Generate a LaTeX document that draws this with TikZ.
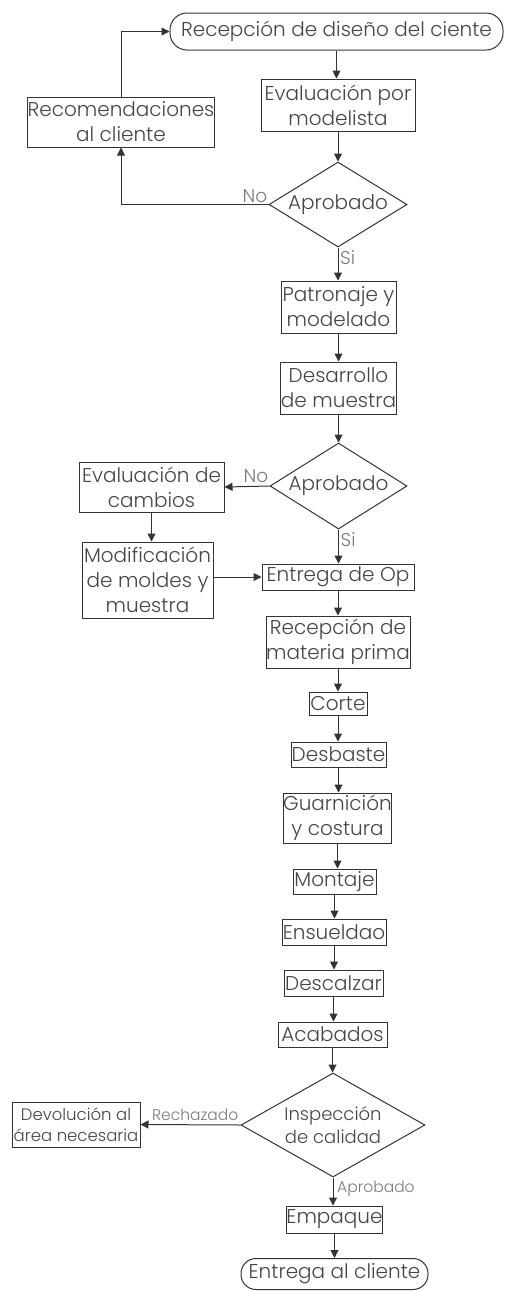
\documentclass[tikz,border=0pt]{standalone}
\usepackage{fontspec}
\setmainfont{Poppins}[UprightFont=* Light]
\usetikzlibrary{shapes.geometric,arrows.meta}
\definecolor{linec}{HTML}{333333}
\definecolor{textc}{HTML}{454545}
\definecolor{labc}{HTML}{7A7A7A}
\tikzset{
  box/.style={draw=linec, line width=1pt, inner sep=0pt, align=center, text=textc,
    font=\fontsize{20}{25}\selectfont},
  term/.style={box, rounded corners=#1},
  dia/.style={box, diamond, aspect=1.6, inner sep=-3pt},
  lab/.style={text=labc, inner sep=0pt, font=\fontsize{15.5}{17}\selectfont},
  biglab/.style={lab, font=\fontsize{18.5}{20}\selectfont},
  arr/.style={draw=linec, line width=1pt, -{Triangle[length=8pt,width=8pt]}},
  ln/.style={draw=linec, line width=1pt}
}
\begin{document}
\begin{tikzpicture}[x=1pt,y=-1pt]
\useasboundingbox (0,0) rectangle (506,1291);
\node[term=17pt, minimum width=333pt, minimum height=37pt] (start) at (336.5,31.5) {Recepción de diseño del ciente};
\node[box, minimum width=154pt, minimum height=52pt] (eval) at (338,105) {Evaluación por\\modelista};
\node[dia, minimum width=138pt, minimum height=85pt] (dec1) at (338,204.5) {Aprobado};
\node[box, minimum width=186pt, minimum height=50pt] (rec) at (121,122) {Recomendaciones\\al cliente};
\node[box, minimum width=115pt, minimum height=52pt] (patr) at (338.5,307) {Patronaje y\\modelado};
\node[box, minimum width=115pt, minimum height=52pt] (desa) at (338.5,388) {Desarrollo\\de muestra};
\node[dia, minimum width=137pt, minimum height=86pt] (dec2) at (338.5,486) {Aprobado};
\node[box, minimum width=145pt, minimum height=50pt] (evc) at (151.5,487) {Evaluación de\\cambios};
\node[box, minimum width=131pt, minimum height=76pt] (mod) at (147.5,580) {Modificación\\de moldes y\\muestra};
\node[box, minimum width=152pt, minimum height=26pt] (ent) at (338,577) {Entrega de Op};
\node[box, minimum width=144pt, minimum height=52pt] (mat) at (338,642) {Recepción de\\materia prima};
\node[box, minimum width=58pt, minimum height=23pt] (corte) at (338,703.5) {Corte};
\node[box, minimum width=95pt, minimum height=25pt] (desb) at (338.5,754.5) {Desbaste};
\node[box, minimum width=107pt, minimum height=50pt] (guar) at (337.5,818) {Guarnición\\y costura};
\node[box, minimum width=83pt, minimum height=25pt] (mont) at (334.5,881.5) {Montaje};
\node[box, minimum width=104pt, minimum height=26pt] (ensu) at (334,932) {Ensueldao};
\node[box, minimum width=99pt, minimum height=26pt] (desc) at (333.5,983) {Descalzar};
\node[box, minimum width=109pt, minimum height=25pt] (acab) at (332.5,1034.5) {Acabados};
\node[dia, minimum width=184pt, minimum height=104pt, font=\fontsize{18}{23}\selectfont] (dec3) at (333,1125) {Inspección\\de calidad};
\node[box, minimum width=128pt, minimum height=45pt, font=\fontsize{16.5}{21}\selectfont] (devo) at (76,1124.5) {Devolución al\\área necesaria};
\node[box, minimum width=95pt, minimum height=27pt] (emp) at (334.5,1219.5) {Empaque};
\node[term=15pt, minimum width=187pt, minimum height=31pt] (fin) at (334.5,1274) {Entrega al cliente};
% connectors
\draw[arr] (start.south) -- (start.south |- eval.north);
\draw[arr] (eval.south) -- (eval.south |- dec1.north);
\draw[arr] (dec1.west) -| (rec.south);
\draw[arr] (rec.north) |- (start.west);
\draw[arr] (dec1.south) -- (dec1.south |- patr.north);
\draw[arr] (patr.south) -- (patr.south |- desa.north);
\draw[arr] (desa.south) -- (desa.south |- dec2.north);
\draw[arr] (dec2.west) -- (evc.east);
\draw[arr] (evc.south) -- (evc.south |- mod.north);
\draw[arr] (ent.west -| mod.east) -- (ent.west);
\draw[arr] (dec2.south) -- (dec2.south |- ent.north);
\draw[arr] (ent.south) -- (ent.south |- mat.north);
\draw[arr] (mat.south) -- (mat.south |- corte.north);
\draw[arr] (corte.south) -- (corte.south |- desb.north);
\draw[arr] (desb.south) -- (desb.south |- guar.north);
\draw[arr] (guar.south) -- (guar.south |- mont.north);
\draw[arr] (mont.south) -- (mont.south |- ensu.north);
\draw[arr] (ensu.south) -- (ensu.south |- desc.north);
\draw[arr] (desc.south) -- (desc.south |- acab.north);
\draw[arr] (acab.south) -- (acab.south |- dec3.north);
\draw[arr] (dec3.west) -- (devo.east);
\draw[arr] (dec3.south) -- (dec3.south |- emp.north);
\draw[arr] (emp.south) -- (emp.south |- fin.north);
% labels (xshift/yshift are in canvas units: positive yshift = up)
\node[biglab, anchor=south east] (l1) at ([xshift=-1pt,yshift=2pt]dec1.west) {No};
\node[biglab, anchor=north west] (l2) at ([xshift=2pt,yshift=-3pt]dec1.south) {Si};
\node[biglab, anchor=south east] (l3) at ([xshift=-1pt,yshift=3pt]dec2.west) {No};
\node[biglab, anchor=north west] (l4) at ([xshift=2pt,yshift=-3pt]dec2.south) {Si};
\node[lab, anchor=south east] (l5) at ([xshift=-2pt,yshift=4pt]dec3.west) {Rechazado};
\node[lab, anchor=north west] (l6) at ([xshift=4pt,yshift=-3pt]dec3.south) {Aprobado};
\end{tikzpicture}
\end{document}
